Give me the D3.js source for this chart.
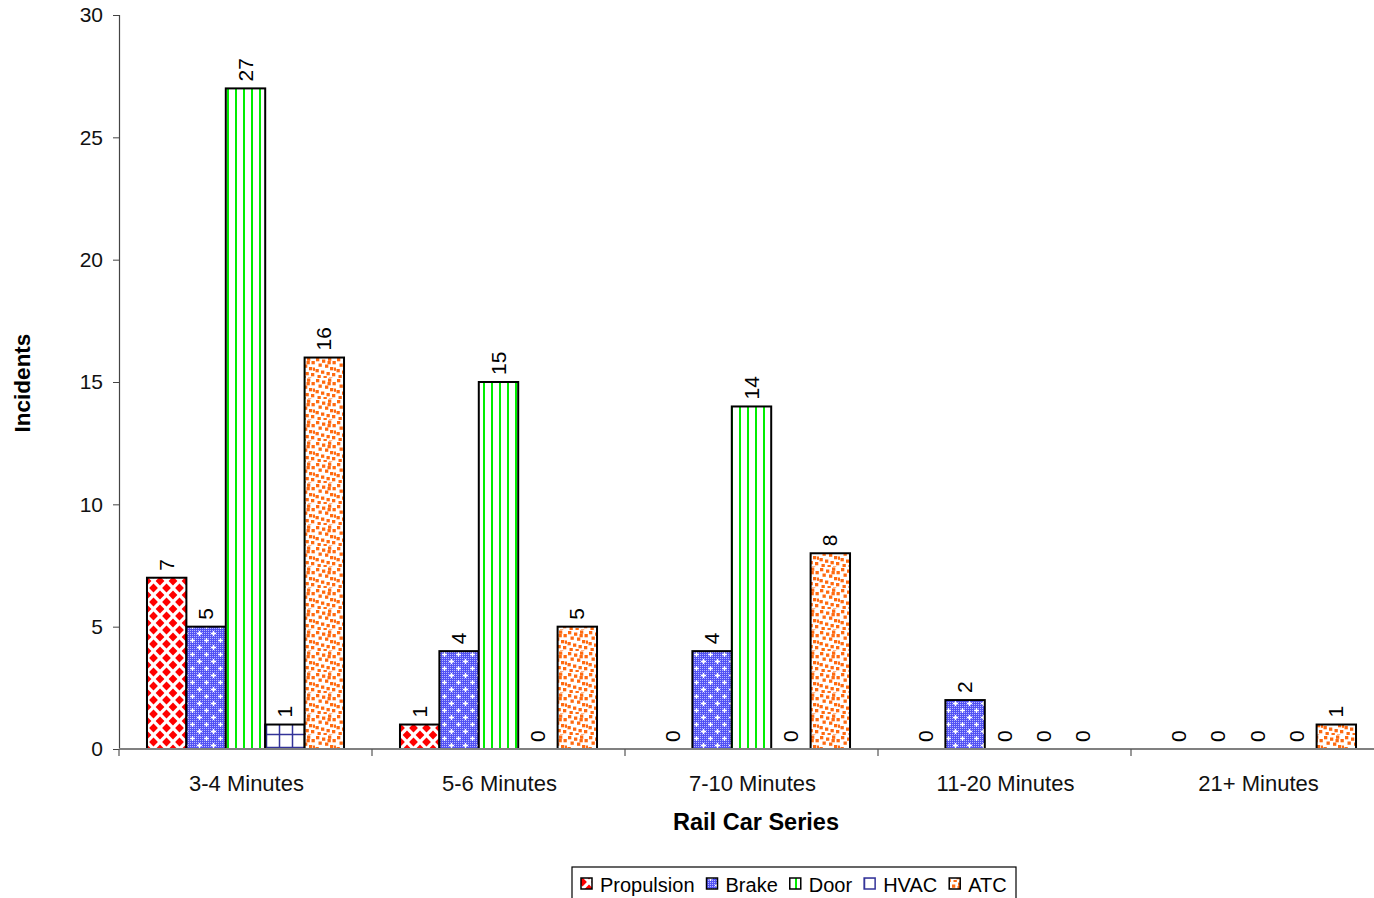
<!DOCTYPE html>
<html><head><meta charset="utf-8">
<script src="https://cdn.jsdelivr.net/npm/d3@7"></script>
<style>body{margin:0;background:#fff;overflow:hidden}svg{display:block;font-family:"Liberation Sans",Arial,sans-serif}</style>
</head><body><svg id="c" width="1374" height="898"></svg>
<script>
const categories = ["3-4 Minutes","5-6 Minutes","7-10 Minutes","11-20 Minutes","21+ Minutes"];
const seriesNames = ["Propulsion","Brake","Door","HVAC","ATC"];
const propulsion = [7,1,0,0,0];
const brake = [5,4,4,2,0];
const door = [27,15,14,0,0];
const hvac = [1,0,0,0,0];
const atc = [16,5,8,0,1];
const yTicks = [0,5,10,15,20,25,30];
const seriesValues = [propulsion, brake, door, hvac, atc];

const svg = d3.select("#c");
const defs = svg.append("defs");
(function(){
  // Propulsion: red diamonds
  let p = defs.append("pattern").attr("id","p0").attr("patternUnits","userSpaceOnUse").attr("width",13).attr("height",14).attr("x",147).attr("y",0);
  p.append("rect").attr("width",13).attr("height",14).attr("fill","#fff");
  const dia = (cx,cy)=>`M${cx},${cy-4.6}L${cx+4.4},${cy}L${cx},${cy+4.6}L${cx-4.4},${cy}Z`;
  [[6.5,0],[6.5,14],[0,7],[13,7]].forEach(([x,y])=>p.append("path").attr("d",dia(x,y)).attr("fill","#ff0000"));
  // Brake: blue with fine white dots and crosses
  p = defs.append("pattern").attr("id","p1").attr("patternUnits","userSpaceOnUse").attr("width",14).attr("height",14);
  p.append("rect").attr("width",14).attr("height",14).attr("fill","#5252f4");
  for(let i=0;i<14;i+=2)for(let j=0;j<14;j+=2)p.append("rect").attr("x",i).attr("y",j).attr("width",1).attr("height",1).attr("fill","#b8b8ff");
  p.append("path").attr("d","M1,3.5h5M3.5,1v5M8,10.5h5M10.5,8v5").attr("stroke","#fff").attr("stroke-width",1.3);
  // Door: green vertical lines
  p = defs.append("pattern").attr("id","p2").attr("patternUnits","userSpaceOnUse").attr("width",8).attr("height",8);
  p.append("rect").attr("width",8).attr("height",8).attr("fill","#fff");
  p.append("rect").attr("x",3).attr("width",2).attr("height",8).attr("fill","#00ee00");
  // HVAC: navy grid
  p = defs.append("pattern").attr("id","p3").attr("patternUnits","userSpaceOnUse").attr("width",13).attr("height",13);
  p.append("rect").attr("width",13).attr("height",13).attr("fill","#fff");
  p.append("path").attr("d","M6.5,0V13M0,6.5H13").attr("stroke","#333399").attr("stroke-width",1.5);
  // ATC: orange confetti
  p = defs.append("pattern").attr("id","p4").attr("patternUnits","userSpaceOnUse").attr("width",21).attr("height",21);
  p.append("rect").attr("width",21).attr("height",21).attr("fill","#fff");
  [[1,1],[7,2.5],[13,0.5],[17.5,4],[3.5,6.5],[10,7.5],[15,10],[0.5,12],[6,13.5],[11.5,15],[17,16],[2.5,18],[8.5,19],[14,20.5],[19,10.5],[12.5,4]].forEach(([x,y])=>p.append("rect").attr("x",x).attr("y",y).attr("width",3.3).attr("height",3.3).attr("fill","#ff6a10"));
})();
const fills = seriesNames.map((d,i)=>`url(#p${i})`);

const L=119,T=15,B=749,band=253;
const R = L + band*categories.length;
const x0 = d3.scaleBand().domain(categories).range([L,R]).paddingInner(0).paddingOuter(0);
const x1 = d3.scaleBand().domain(seriesNames).range([0,x0.bandwidth()]).paddingInner(0).paddingOuter(0.71);
const y = d3.scaleLinear().domain([0,30]).range([B,T]);

// y axis
const ya = svg.append("g").attr("transform",`translate(${L},0)`)
  .call(d3.axisLeft(y).tickValues(yTicks).tickSize(6).tickPadding(10));
ya.select(".domain").attr("stroke","#444").attr("stroke-width",1.2);
ya.selectAll(".tick line").attr("stroke","#444");
ya.selectAll("text").attr("font-size",21).attr("fill","#111").attr("font-family","Liberation Sans, Arial, sans-serif");

// bars
categories.forEach((c,ci)=>{
  seriesNames.forEach((s,si)=>{
    const v = seriesValues[si][ci];
    const bx = x0(c)+x1(s), bw = x1.bandwidth();
    if(v>0) svg.append("rect").attr("x",bx).attr("y",y(v)).attr("width",bw).attr("height",y(0)-y(v))
      .attr("fill",fills[si]).attr("stroke","#000").attr("stroke-width",2);
    svg.append("text").attr("transform",`translate(${bx+bw/2+7},${y(v)-7}) rotate(-90)`)
      .attr("font-size",21).attr("fill","#000").text(v);
  });
});

// x axis
svg.append("line").attr("x1",L).attr("x2",R).attr("y1",B).attr("y2",B).attr("stroke","#808080").attr("stroke-width",2);
categories.map(c=>x0(c)).forEach(b=>svg.append("line").attr("x1",b).attr("x2",b).attr("y1",B).attr("y2",B+7).attr("stroke","#555").attr("stroke-width",1.2));
categories.forEach(c=>svg.append("text").attr("x",x0(c)+x0.bandwidth()/2+1).attr("y",791).attr("text-anchor","middle")
  .attr("font-size",22).attr("fill","#111").text(c));

svg.append("text").attr("x",756).attr("y",830).attr("text-anchor","middle").attr("font-size",23.5).attr("font-weight","bold").text("Rail Car Series");
svg.append("text").attr("transform","translate(30,383) rotate(-90)").attr("text-anchor","middle").attr("font-size",22.5).attr("font-weight","bold").text("Incidents");

// legend
const lg = svg.append("g");
lg.append("rect").attr("x",572).attr("y",867).attr("width",444).attr("height",40).attr("fill","#fff").attr("stroke","#000").attr("stroke-width",1.2);
let lx = 581;
seriesNames.forEach((s,i)=>{
  lg.append("rect").attr("x",lx).attr("y",878).attr("width",11).attr("height",11).attr("fill",fills[i]).attr("stroke",i===3?"#333399":"#000").attr("stroke-width",1.5);
  const t = lg.append("text").attr("x",lx+19).attr("y",892).attr("font-size",20).attr("fill","#000").text(s);
  lx += 19 + t.node().getComputedTextLength() + 12;
});
</script></body></html>
